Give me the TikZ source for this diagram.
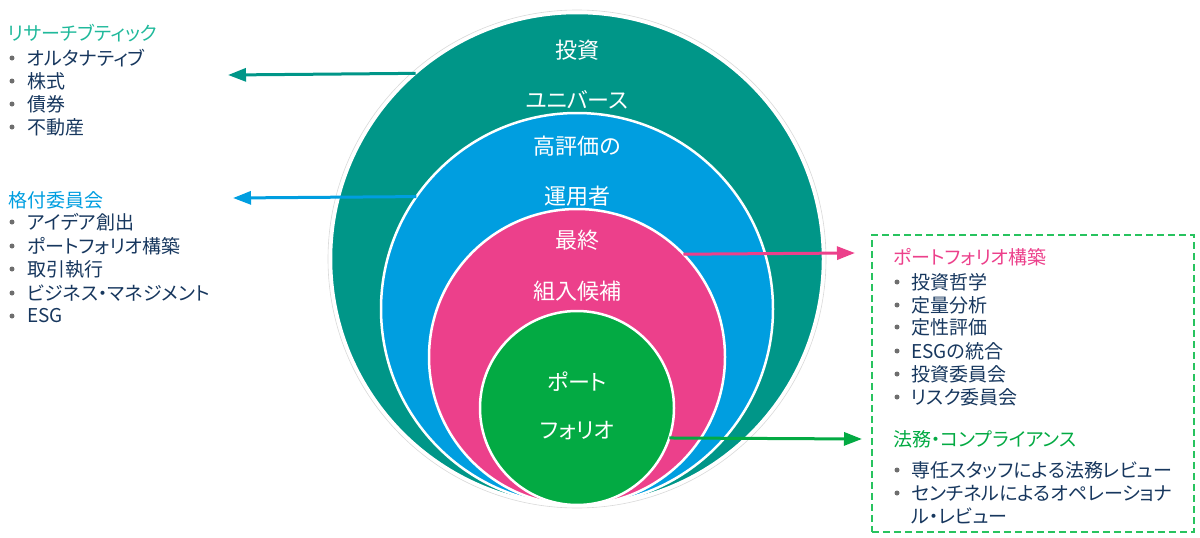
\documentclass[tikz,border=0pt]{standalone}
\usepackage{fontspec}
\setmainfont{Noto Sans CJK JP}[RawFeature=+palt]
\usetikzlibrary{arrows.meta}

\begin{document}
\begin{tikzpicture}[
    x=1pt, y=-1pt,
    font=\fontsize{19}{23}\selectfont,
    ring/.style={circle, draw=white, line width=2.5pt, inner sep=0pt, outer sep=0pt},
    ringtext/.style={text=white, inner sep=0pt, font=\fontsize{22}{26}\selectfont},
    bulletdot/.style={circle, fill=bulletgray, inner sep=0pt, minimum size=5pt},
    itemtext/.style={anchor=west, text=navy, inner sep=0pt},
    headtext/.style={anchor=west, inner sep=0pt},
    outarrow/.style={line width=3pt, -{Triangle[length=18pt, width=13pt]}},
]

% ===== Colors =====
\definecolor{tealc}{RGB}{0,150,136}
\definecolor{bluec}{RGB}{0,158,224}
\definecolor{pinkc}{RGB}{236,64,139}
\definecolor{greenc}{RGB}{3,170,67}
\definecolor{headteal}{RGB}{32,185,155}
\definecolor{navy}{RGB}{23,55,94}
\definecolor{bulletgray}{RGB}{110,110,110}
\definecolor{boxgreen}{RGB}{40,195,95}

\useasboundingbox (0,0) rectangle (1200,538);

% ===== Nested circles =====
% all four circles touch at the bottom (y = \by)
\def\cx{577}
\def\by{505}

\draw[black!15, line width=0.6pt] (\cx,\by-246) circle (249pt);
\node[ring, fill=tealc,  minimum size=492pt] (univ) at (\cx,\by-246) {};
\node[ring, fill=bluec,  minimum size=392pt] (mgr)  at (\cx,\by-196) {};
\node[ring, fill=pinkc,  minimum size=296pt] (cand) at (\cx,\by-148) {};
\node[ring, fill=greenc, minimum size=194pt] (port) at (\cx,\by-97) {};

% labels inside the circles
\foreach \y/\txt/\nm in {50/投資/univa, 100/ユニバース/univb,
                         146/高評価の/mgra, 196/運用者/mgrb,
                         240/最終/canda, 291/組入候補/candb,
                         382/ポート/porta, 431/フォリオ/portb} {
    \node[ringtext] (\nm) at (\cx,\y) {\txt};
}

% ===== Left lists =====
\node[headtext, text=headteal] (research) at (8,33) {リサーチブティック};
\foreach \y/\txt [count=\i] in {58/オルタナティブ, 81/株式, 104/債券, 127/不動産} {
    \node[bulletdot] (rb\i) at (12,\y) {};
    \node[itemtext] (ri\i) at (27,\y) {\txt};
}

\node[headtext, text=bluec] (rating) at (8,200) {格付委員会};
\foreach \y/\txt [count=\i] in {222/アイデア創出, 246/ポートフォリオ構築, 269/取引執行,
                                 293/ビジネス・マネジメント, 316/ESG} {
    \node[bulletdot] (cb\i) at (12,\y) {};
    \node[itemtext] (ci\i) at (27,\y) {\txt};
}

% ===== Right box =====
\node[draw=boxgreen, line width=1.8pt, dash pattern=on 7pt off 4pt,
      minimum width=322pt, minimum height=297pt, inner sep=0pt,
      anchor=north west] (box) at (871,234) {};

\node[headtext, text=pinkc] (build) at (893,257) {ポートフォリオ構築};
\foreach \y/\txt [count=\i] in {282/投資哲学, 305/定量分析, 327/定性評価,
                                 351/ESGの統合, 374/投資委員会, 397/リスク委員会} {
    \node[bulletdot] (pb\i) at (897,\y) {};
    \node[itemtext] (pi\i) at (911,\y) {\txt};
}

\node[headtext, text=greenc] (legal) at (893,439) {法務・コンプライアンス};
\node[bulletdot] (lb1) at (897,470) {};
\node[itemtext] (li1) at (911,470) {専任スタッフによる法務レビュー};
\node[bulletdot] (lb2) at (897,493) {};
\node[itemtext] (li2) at (911,493) {センチネルによるオペレーショナ};
\node[itemtext] (li3) at (911,516) {ル・レビュー};

% ===== Arrows =====
\coordinate (tealtip)  at (228,75);
\coordinate (bluetip)  at (233,198);
\coordinate (pinktip)  at (855,253);
\coordinate (greentip) at (862,439);

\draw[outarrow, tealc]  (univ.131.6) -- (tealtip);
\draw[outarrow, bluec]  (mgr.145.5)  -- (bluetip);
\draw[outarrow, pinkc]  (cand.44.6)  -- (pinktip);
\draw[outarrow, greenc] (port.-18.6) -- (greentip);

\end{tikzpicture}
\end{document}
